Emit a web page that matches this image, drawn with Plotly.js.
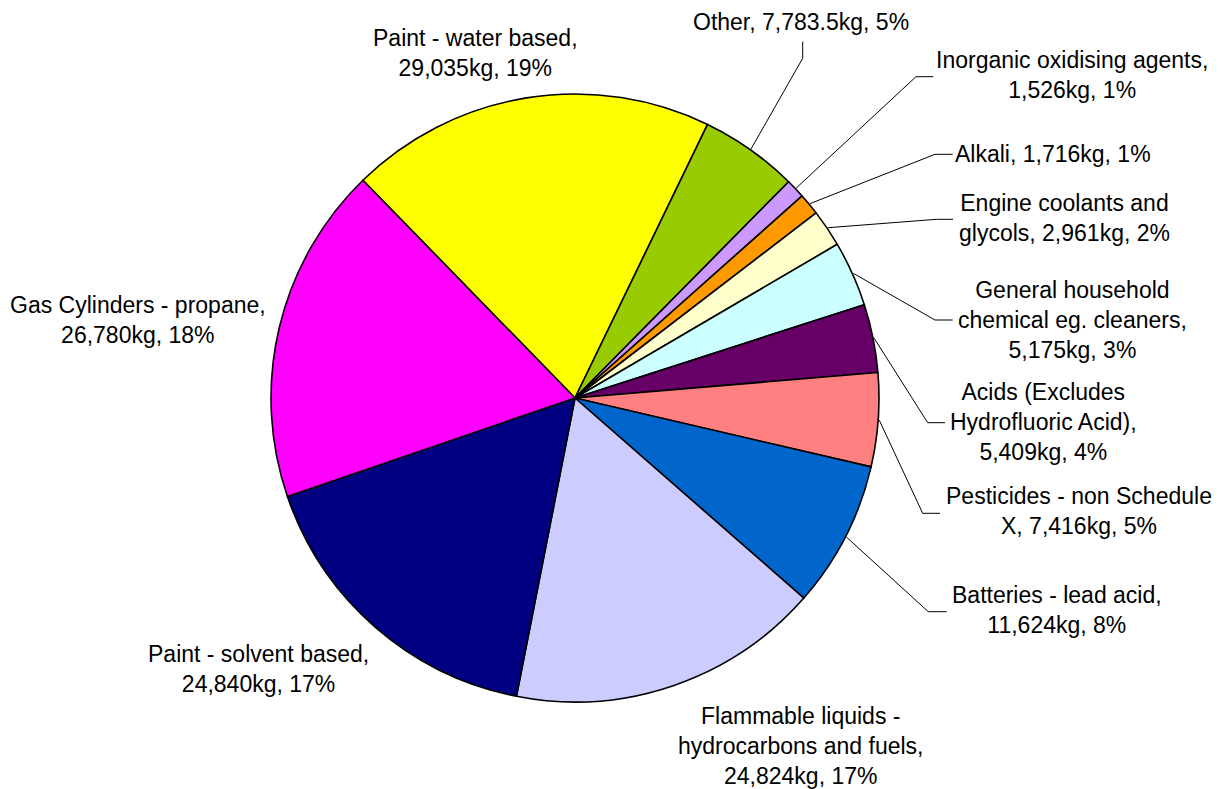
<!DOCTYPE html>
<html>
<head>
<meta charset="utf-8">
<script src="https://cdn.plot.ly/plotly-3.0.1.min.js"></script>
<style>html,body{margin:0;padding:0;background:#fff;}#chart{width:1225px;height:789px;}</style>
</head>
<body>
<div id="chart"></div>
<script>
// ---- data (clockwise order, starting with "Paint - water based") ----
var categories = [
  "Paint - water based",
  "Other",
  "Inorganic oxidising agents",
  "Alkali",
  "Engine coolants and glycols",
  "General household chemical eg. cleaners",
  "Acids (Excludes Hydrofluoric Acid)",
  "Pesticides - non Schedule X",
  "Batteries - lead acid",
  "Flammable liquids - hydrocarbons and fuels",
  "Paint - solvent based",
  "Gas Cylinders - propane"
];
var weightsKg = [29035, 7783.5, 1526, 1716, 2961, 5175, 5409, 7416, 11624, 24824, 24840, 26780];
var percentLabels = ["19%", "5%", "1%", "1%", "2%", "3%", "4%", "5%", "8%", "17%", "17%", "18%"];
var weightLabels = ["29,035kg", "7,783.5kg", "1,526kg", "1,716kg", "2,961kg", "5,175kg", "5,409kg", "7,416kg", "11,624kg", "24,824kg", "24,840kg", "26,780kg"];
// label text broken into lines as in the original
var labelLines = [
  ["Paint - water based,", "29,035kg, 19%"],
  ["Other, 7,783.5kg, 5%"],
  ["Inorganic oxidising agents,", "1,526kg, 1%"],
  ["Alkali, 1,716kg, 1%"],
  ["Engine coolants and", "glycols, 2,961kg, 2%"],
  ["General household", "chemical eg. cleaners,", "5,175kg, 3%"],
  ["Acids (Excludes", "Hydrofluoric Acid),", "5,409kg, 4%"],
  ["Pesticides - non Schedule", "X, 7,416kg, 5%"],
  ["Batteries - lead acid,", "11,624kg, 8%"],
  ["Flammable liquids -", "hydrocarbons and fuels,", "24,824kg, 17%"],
  ["Paint - solvent based,", "24,840kg, 17%"],
  ["Gas Cylinders - propane,", "26,780kg, 18%"]
];
var sliceColors = ["#FFFF00", "#99CC00", "#CC99FF", "#FF9900", "#FFFFCC", "#CCFFFF",
                   "#660066", "#FF8080", "#0066CC", "#CCCCFF", "#000080", "#FF00FF"];

// ---- layout (pixel positions) ----
var W = 1225, H = 789;
var CX = 575, CY = 398, R = 304;
var ROTATION = -44.25;
// label block centres [x, y] in px
var labelPos = [
  [475, 53], [801, 22], [1072, 75], [1053, 154], [1064, 218], [1072, 320],
  [1043, 422], [1079, 511], [1057, 610], [801, 746], [258, 669], [138, 320]
];
// leader line bend and end points (null = no leader line)
var leaderPts = [
  null,
  [[802.7, 58.3], [802.7, 41.7]],
  [[916, 76.7], [933.3, 76.7]],
  [[935, 154.3], [952.7, 154.3]],
  [[936.7, 219.3], [953, 219.3]],
  [[935, 320], [952.7, 320]],
  [[927.7, 422.7], [945, 422.7]],
  [[922.7, 513.3], [940, 513.3]],
  [[928.3, 611.7], [946.7, 611.7]],
  null, null, null
];

function px(x) { return x / W; }
function py(y) { return 1 - y / H; }

var trace = {
  type: "pie",
  values: weightsKg,
  labels: categories,
  sort: false,
  direction: "clockwise",
  rotation: ROTATION,
  textinfo: "none",
  hoverinfo: "label+value+percent",
  marker: { colors: sliceColors, line: { color: "#000000", width: 1.6 } },
  domain: { x: [px(CX - R), px(CX + R)], y: [py(CY + R), py(CY - R)] },
  showlegend: false
};

// compute slice mid angles from the data
var total = weightsKg.reduce(function (a, b) { return a + b; }, 0);
var cum = 0;
var shapes = [];
var annotations = [];
for (var i = 0; i < weightsKg.length; i++) {
  var mid = ROTATION + (cum + weightsKg[i] / 2) / total * 360;
  cum += weightsKg[i];
  var rad = mid * Math.PI / 180;
  if (leaderPts[i]) {
    var sx = CX + (R + 1) * Math.sin(rad);
    var sy = CY - (R + 1) * Math.cos(rad);
    var b = leaderPts[i][0], e = leaderPts[i][1];
    shapes.push({
      type: "path", xref: "paper", yref: "paper",
      path: "M" + px(sx) + "," + py(sy) + " L" + px(b[0]) + "," + py(b[1]) + " L" + px(e[0]) + "," + py(e[1]),
      line: { color: "#000000", width: 1 }
    });
  }
  annotations.push({
    xref: "paper", yref: "paper",
    x: px(labelPos[i][0]), y: py(labelPos[i][1]),
    xanchor: "center", yanchor: "middle",
    align: "center",
    showarrow: false,
    text: labelLines[i].join("<br>"),
    font: { family: "Liberation Sans, Arial, sans-serif", size: 23, color: "#000000" }
  });
}

var layout = {
  width: W, height: H,
  margin: { l: 0, r: 0, t: 0, b: 0 },
  paper_bgcolor: "#FFFFFF",
  plot_bgcolor: "#FFFFFF",
  shapes: shapes,
  annotations: annotations
};

Plotly.newPlot("chart", [trace], layout, { displayModeBar: false, staticPlot: true });
</script>
</body>
</html>
